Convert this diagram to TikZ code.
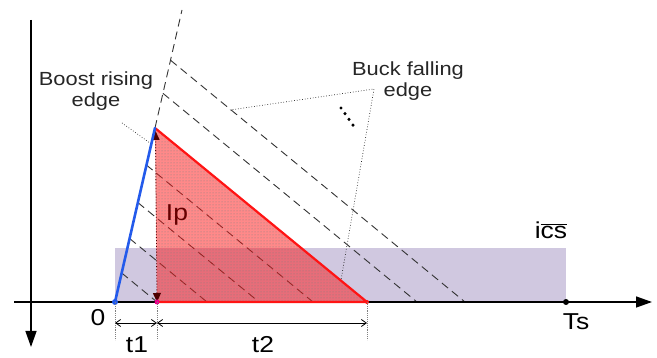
\documentclass[tikz,border=0pt]{standalone}
\usepackage{fontspec}
\setmainfont[FakeStretch=1.15]{Liberation Sans}
\usetikzlibrary{arrows.meta,patterns,positioning}

\definecolor{boostblue}{RGB}{35,90,235}
\definecolor{icsviolet}{RGB}{208,200,224}
\definecolor{buckred}{RGB}{255,20,20}

\begin{document}
\begin{tikzpicture}[x=1pt,y=-1pt,
  axisline/.style={line width=1.4pt, -{Triangle[length=16pt,width=11pt]}},
  dashline/.style={dash pattern=on 8pt off 5pt, line width=0.9pt, black!80},
  leader/.style={dotted, line width=0.7pt, black!85},
  extline/.style={densely dotted, line width=0.9pt, gray},
  dimarrow/.style={{Straight Barb[length=5pt,width=7pt]}-{Straight Barb[length=5pt,width=7pt]}, line width=0.8pt},
  biglabel/.style={font=\fontsize{23}{25}\selectfont, inner sep=0pt},
  notelabel/.style={font=\fontsize{19}{21}\selectfont, align=center, text=black!85, inner sep=0pt},
  dotmark/.style={circle, inner sep=0pt, minimum size=6pt}
]
  \useasboundingbox (0,0) rectangle (657,358);

  % key points of the waveform
  \coordinate (O) at (115,302);
  \coordinate (P) at (155,128);
  \coordinate (B) at (157,302);
  \coordinate (E) at (367,302);
  \coordinate (T) at (182,10);
  \coordinate (icstop) at (566,248);

  % average current band
  \fill[icsviolet] (O) rectangle (icstop);

  % steep extension and the family of falling edges
  \draw[dashline] (P) -- (T);
  \foreach \sx/\sy/\ex in {170.6/60.3/465, 163/93.4/417, 146.4/165/313,
                           137.9/202.6/259, 129.6/238.5/207, 121.7/273/157}
    \draw[dashline] (\sx,\sy) -- (\ex,302);

  % triangle of inductor current
  \fill[buckred, opacity=0.5] (P) -- (E) -- (B) -- cycle;
  \fill[pattern=dots, pattern color=gray] (P) -- (E) -- (B) -- cycle;

  % peak current
  \coordinate (ptop) at (155.5,131);
  \draw[dotted, line width=0.9pt, red!30!black,
        {Triangle[length=9pt,width=8pt]}-{Triangle[length=9pt,width=8pt]}] (B) -- (ptop);

  % axes
  \coordinate (xa) at (14,302);
  \coordinate (xb) at (652,302);
  \coordinate (ya) at (31,20);
  \coordinate (yb) at (31,347);
  \draw[axisline] (xa) -- (xb);
  \draw[axisline] (ya) -- (yb);

  \draw[buckred, line width=2.2pt, line join=round] (P) -- (E) -- (B);
  \draw[boostblue, line width=2.6pt, line cap=round] (O) -- (P);

  \node[dotmark, fill=boostblue] (Odot) at (O) {};
  \node[dotmark, fill=magenta, minimum size=5pt] (Bdot) at (B) {};
  \node[dotmark, fill=buckred, minimum size=4pt] (Edot) at (E) {};
  \node[dotmark, fill=black] (Ts) at (566,302) {};

  % time spans
  \coordinate (o1) at (115,340);
  \coordinate (b1) at (157,340);
  \coordinate (e1) at (367,340);
  \coordinate (od) at (115,323);
  \coordinate (bd) at (157,323);
  \coordinate (ed) at (367,323);
  \draw[extline] (O) -- (o1);
  \draw[extline] (B) -- (b1);
  \draw[extline] (E) -- (e1);
  \draw[dimarrow] (od) -- (bd);
  \draw[dimarrow] (bd) -- (ed);

  % labels
  \node[biglabel] (zero) at (98,318) {0};
  \node[biglabel] (tone) at (137,345) {t1};
  \node[biglabel] (ttwo) at (263,345) {t2};
  \node[biglabel] (tslabel) at (576,322) {Ts};
  \node[biglabel, text=red!40!black] (ip) at (177,215) {Ip};
  \node[biglabel] (ics) at (551,230) {i$\overline{\mbox{cs}}$};

  \node[notelabel] (boost) at (96,91) {Boost rising\\edge};
  \node[notelabel] (buck) at (408,81) {Buck falling\\edge};

  % leaders
  \coordinate (boostend) at (122,123);
  \coordinate (boosthit) at (150,143);
  \draw[leader] (boostend) -- (boosthit);
  \coordinate (buckv) at (374,89);
  \coordinate (bucka) at (230,110);
  \coordinate (buckb) at (341,280);
  \draw[leader] (bucka) -- (buckv) -- (buckb);

  \foreach \i in {0,...,3}
    \fill (341+4*\i, 108+5.7*\i) circle (1.7pt);
\end{tikzpicture}
\end{document}
